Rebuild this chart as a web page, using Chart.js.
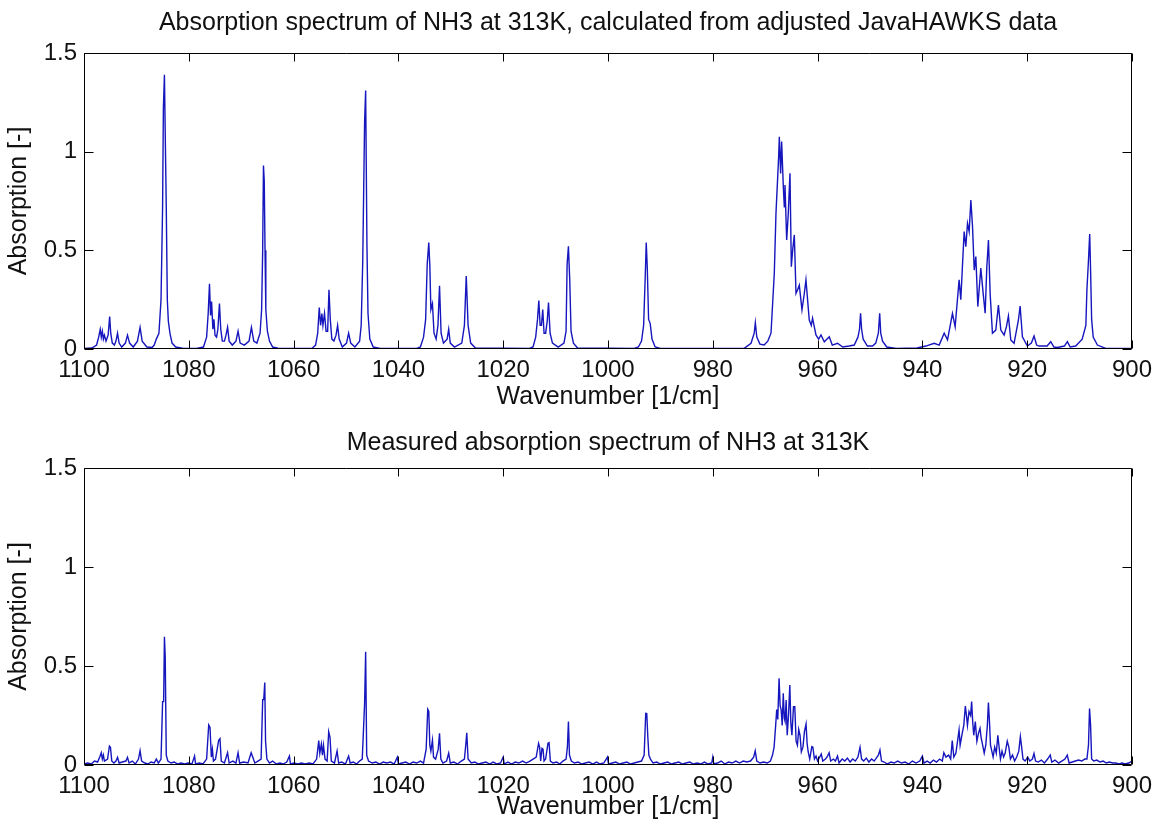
<!DOCTYPE html>
<html>
<head>
  <title>NH3 absorption spectra</title>
  <script src="https://cdn.jsdelivr.net/npm/chart.js"></script>
  <style>
    body { margin: 0; background: #fff; }
    .panel { position: absolute; left: 0; width: 1159px; height: 413px; }
  </style>
</head>
<body>
  <div class="panel" style="top:0"><canvas id="calcChart" width="1159" height="413"></canvas></div>
  <div class="panel" style="top:413px"><canvas id="measChart" width="1159" height="413"></canvas></div>

<script>
  // axis ticks
  const xTicks = [1100, 1080, 1060, 1040, 1020, 1000, 980, 960, 940, 920, 900];
  const yTicks = [0, 0.5, 1, 1.5];

  // calculated spectrum (JavaHAWKS)
  const calcWavenumber = [
    1100, 1098.5, 1097.6, 1097.2, 1096.9, 1096.7, 1096.5, 1096.3, 1096.1, 1095.8,
    1095.4, 1095.1, 1094.9, 1094.6, 1094.2, 1093.9, 1093.6, 1093.3, 1092.8, 1092.1,
    1091.7, 1091.3, 1090.6, 1089.8, 1089.3, 1088.9, 1088.0, 1087.0, 1086.6, 1086.2,
    1085.7, 1085.3, 1085.0, 1084.85, 1084.65, 1084.45, 1084.3, 1084.1, 1083.9, 1083.6,
    1083.2, 1082.5, 1081.0, 1078.5, 1077.2, 1076.6, 1076.3, 1076.05, 1075.85, 1075.65,
    1075.4, 1075.2, 1075.0, 1074.7, 1074.45, 1074.15, 1073.9, 1073.6, 1073.2, 1072.9,
    1072.6, 1072.3, 1071.7, 1071.0, 1070.6, 1070.2, 1069.4, 1068.5, 1068.05, 1067.6,
    1067.0, 1066.4, 1066.1, 1065.9, 1065.75, 1065.6, 1065.45, 1065.3, 1065.0, 1064.6,
    1064.0, 1063.0, 1062.0, 1056.5, 1055.8, 1055.4, 1055.1, 1054.85, 1054.6, 1054.4,
    1054.1, 1053.8, 1053.5, 1053.25, 1053.0, 1052.7, 1052.3, 1051.9, 1051.6, 1051.3,
    1050.7, 1049.9, 1049.5, 1049.1, 1048.3, 1047.4, 1047.1, 1046.8, 1046.45, 1046.25,
    1046.0, 1045.8, 1045.45, 1044.8, 1043.5, 1036.5, 1035.8, 1035.2, 1034.8, 1034.5,
    1034.2, 1034.0, 1033.8, 1033.5, 1033.2, 1032.8, 1032.45, 1032.15, 1031.85, 1031.4,
    1030.7, 1030.4, 1030.1, 1029.3, 1027.9, 1027.4, 1027.05, 1026.7, 1026.2, 1025.3,
    1015.0, 1014.3, 1013.8, 1013.45, 1013.2, 1012.95, 1012.7, 1012.45, 1012.2, 1011.9,
    1011.6, 1011.35, 1011.05, 1010.6, 1009.5, 1008.4, 1008.0, 1007.8, 1007.55, 1007.3,
    1007.05, 1006.6, 1005.8, 995.0, 994.2, 993.6, 993.2, 992.9, 992.7, 992.5,
    992.25, 991.95, 991.6, 991.0, 990.0, 974.0, 972.7, 972.1, 971.88, 971.6,
    971.0, 970.2, 969.5, 968.89, 968.26, 967.94, 967.43, 967.3, 967.05, 966.86,
    966.54, 966.35, 966.22, 965.9, 965.59, 965.27, 965.01, 964.76, 964.44, 964.12,
    963.81, 963.49, 962.98, 962.54, 962.22, 961.91, 961.59, 961.2, 960.96, 960.31,
    959.8, 959.35, 958.72, 957.77, 957.2, 956.19, 955.2, 954.0, 953.0, 952.3,
    952.0, 951.8, 951.6, 951.3, 950.5, 949.5, 948.9, 948.4, 948.15, 947.95,
    947.6, 946.8, 945.0, 941.0,
    939.33, 937.75, 936.8, 935.84, 935.2, 934.26, 933.75, 932.99, 932.67, 932.03,
    931.71, 931.39, 931.07, 930.75, 930.43, 930.11, 929.8, 929.42, 928.85, 928.4,
    928.02, 927.7, 927.39, 927.07, 926.63, 925.99, 925.49, 925.03, 924.4, 923.96,
    923.58, 923.13, 922.5, 921.67, 921.35, 920.91, 919.96, 919.2, 918.69, 918.2,
    917.73, 916.2, 915.5, 914.9, 914.24, 912.9, 912.33, 911.8, 910.74, 909.5,
    908.8, 908.6, 908.3, 908.07, 907.9, 907.7, 907.4, 906.6, 905.0, 900
  ];
  const calcAbsorption = [
    0.003, 0.005, 0.02, 0.06, 0.10, 0.06, 0.09, 0.05, 0.07, 0.04,
    0.07, 0.165, 0.08, 0.03, 0.02, 0.04, 0.08, 0.03, 0.01, 0.03,
    0.07, 0.03, 0.01, 0.04, 0.11, 0.04, 0.01, 0.008, 0.02, 0.05,
    0.08, 0.25, 0.72, 1.22, 1.39, 1.0, 0.72, 0.25, 0.14, 0.08,
    0.03, 0.01, 0.003, 0.003, 0.01, 0.06, 0.18, 0.33, 0.17, 0.24,
    0.10, 0.15, 0.07, 0.06, 0.10, 0.23, 0.10, 0.04, 0.04, 0.07,
    0.11, 0.04, 0.02, 0.04, 0.09, 0.03, 0.02, 0.04, 0.11, 0.04,
    0.03, 0.08, 0.2, 0.5, 0.93, 0.85, 0.5, 0.2, 0.09, 0.04,
    0.01, 0.004, 0.003, 0.003, 0.02, 0.08, 0.21, 0.12, 0.18, 0.12,
    0.18, 0.09, 0.09, 0.30, 0.15, 0.05, 0.04, 0.07, 0.12, 0.05,
    0.01, 0.03, 0.08, 0.03, 0.01, 0.04, 0.12, 0.45, 1.15, 1.31,
    0.52, 0.18, 0.05, 0.01, 0.003, 0.003, 0.01, 0.06, 0.15, 0.43,
    0.54, 0.42, 0.2, 0.23, 0.08, 0.05, 0.12, 0.32, 0.08, 0.03,
    0.05, 0.10, 0.03, 0.01, 0.03, 0.12, 0.37, 0.12, 0.03, 0.005,
    0.003, 0.01, 0.06, 0.15, 0.245, 0.12, 0.12, 0.20, 0.08, 0.08,
    0.14, 0.235, 0.08, 0.03, 0.01, 0.03, 0.09, 0.43, 0.52, 0.35,
    0.09, 0.03, 0.005, 0.003, 0.01, 0.04, 0.12, 0.36, 0.54, 0.41,
    0.15, 0.13, 0.05, 0.01, 0.003, 0.003, 0.029, 0.08, 0.133, 0.06,
    0.025, 0.02, 0.04, 0.08, 0.384, 0.688, 0.975, 1.076, 0.89, 1.051,
    0.823, 0.721, 0.831, 0.552, 0.688, 0.89, 0.417, 0.5, 0.578, 0.282,
    0.3, 0.324, 0.198, 0.28, 0.35, 0.25, 0.147, 0.12, 0.156, 0.071,
    0.05, 0.071, 0.037, 0.062, 0.02, 0.029, 0.01, 0.015, 0.02, 0.06,
    0.1, 0.181, 0.1, 0.05, 0.015, 0.015, 0.03, 0.08, 0.181, 0.08,
    0.04, 0.01, 0.003, 0.005,
    0.015, 0.029, 0.02, 0.08, 0.046, 0.18, 0.113, 0.35, 0.25, 0.595,
    0.519, 0.637, 0.595, 0.755, 0.62, 0.4, 0.468, 0.215, 0.41, 0.282,
    0.181, 0.417, 0.552, 0.282, 0.08, 0.096, 0.223, 0.096, 0.071, 0.113,
    0.167, 0.046, 0.029, 0.147, 0.218, 0.062, 0.015, 0.03, 0.066, 0.02,
    0.015, 0.015, 0.037, 0.01, 0.008, 0.015, 0.037, 0.01, 0.015, 0.05,
    0.12, 0.3, 0.45, 0.583, 0.4, 0.15, 0.06, 0.02, 0.003, 0.003
  ];

  // measured spectrum
  const measWavenumber = [
    1100, 1099.3, 1098.6, 1098.0, 1097.4, 1097.0, 1096.7, 1096.5, 1096.3, 1096.1,
    1095.5, 1095.15, 1094.95, 1094.7, 1094.3, 1093.9, 1093.6, 1093.3, 1092.7, 1092.0,
    1091.7, 1091.4, 1090.8, 1090.2, 1089.6, 1089.3, 1089.0, 1088.4, 1087.8, 1087.2,
    1086.6, 1086.2, 1085.8, 1085.3, 1085.0, 1084.8, 1084.65, 1084.5, 1084.3, 1084.0,
    1083.4, 1082.8, 1082.1, 1081.5, 1080.8, 1080.1, 1079.4, 1078.9, 1078.7, 1078.0,
    1077.3, 1076.6, 1076.2, 1075.95, 1075.7, 1075.5, 1075.3, 1074.9, 1074.3, 1074.05,
    1073.8, 1073.2, 1072.6, 1072.3, 1071.6, 1071.0, 1070.6, 1070.3, 1069.5, 1068.7,
    1068.1, 1067.8, 1067.4, 1066.8, 1066.2, 1065.9, 1065.7, 1065.5, 1065.35, 1065.1,
    1064.6, 1064.0, 1063.3, 1062.6, 1062.0, 1061.3, 1060.8, 1060.6, 1059.9, 1059.2,
    1058.5, 1057.8, 1057.0, 1056.3, 1055.6, 1055.2, 1055.0, 1054.7, 1054.5, 1054.3,
    1054.0, 1053.6, 1053.3, 1053.05, 1052.8, 1052.2, 1051.7, 1051.4, 1050.8, 1050.1,
    1049.5, 1049.2, 1048.6, 1048.0, 1047.4, 1046.9, 1046.45, 1046.25, 1046.05, 1045.7,
    1045.0, 1044.3, 1043.6, 1042.9, 1042.2, 1041.5, 1040.8, 1040.2, 1040.0, 1039.3,
    1038.6, 1037.9, 1037.2, 1036.5, 1035.8, 1035.2, 1034.7, 1034.4, 1034.2, 1034.0,
    1033.8, 1033.5, 1033.3, 1032.9, 1032.4, 1032.15, 1031.9, 1031.5, 1030.8, 1030.4,
    1030.1, 1029.4, 1028.7, 1028.0, 1027.4, 1027.15, 1026.95, 1026.7, 1026.1, 1025.4,
    1024.7, 1024.0, 1023.3, 1022.6, 1021.9, 1021.2, 1020.5, 1020.0, 1019.8, 1019.1,
    1018.4, 1017.7, 1017.0, 1016.3, 1015.6, 1014.9, 1014.3, 1013.7, 1013.25, 1013.05,
    1012.85, 1012.6, 1012.4, 1012.2, 1011.9, 1011.45, 1011.25, 1011.0, 1010.5, 1009.8,
    1009.2, 1008.6, 1008.0, 1007.75, 1007.55, 1007.35, 1007.0, 1006.4, 1005.7, 1005.0,
    1004.3, 1003.6, 1002.9, 1002.2, 1001.5, 1000.8, 1000.1, 999.9, 999.2, 998.5,
    997.8, 997.1, 996.4, 995.7, 995.0, 994.3, 993.6, 993.1, 992.8, 992.6,
    992.4, 992.2, 991.9, 991.4, 990.7, 990.0, 989.3, 988.6, 987.9, 987.2,
    986.5, 985.8, 985.1, 984.4, 983.7, 983.0, 982.3, 981.6, 980.9, 980.2,
    980.0, 979.8, 979.1, 978.4, 977.7, 977.0, 976.3, 975.6, 974.9, 974.2,
    973.5, 972.8, 972.2, 971.9, 971.6, 971.0, 970.3, 969.6, 969.0, 968.6,
    968.3, 968.0, 967.8, 967.6, 967.35, 967.15, 966.95, 966.75, 966.55, 966.35,
    966.2, 966.0, 965.8, 965.55, 965.3, 965.1, 964.9, 964.6, 964.35, 964.1,
    963.85, 963.6, 963.35, 963.1, 962.8, 962.5, 962.2, 962.0, 961.8, 961.5,
    961.1, 960.9, 960.6, 960.3, 960.0, 959.6, 959.3, 959.0, 958.5, 958.1,
    957.8, 957.5, 957.0, 956.6, 956.2, 955.9, 955.3, 954.8, 954.3, 953.8,
    953.3, 952.8, 952.3, 951.9, 951.6, 951.2, 950.7, 950.2, 949.7, 949.2,
    948.8, 948.4, 948.1, 947.8, 947.3, 946.7, 946.0, 945.4, 944.7, 944.0,
    943.3, 942.6, 941.9, 941.2, 940.5, 940.0, 939.7, 939.1, 938.5, 937.9,
    937.3, 936.7, 936.2, 935.9, 935.5, 935.0, 934.6, 934.3, 934.0, 933.6,
    933.0, 932.8, 932.4, 932.1, 931.8, 931.6, 931.4, 931.1, 930.8, 930.6,
    930.4, 930.2, 929.9, 929.6, 929.3, 929.0, 928.8, 928.5, 928.2, 927.9,
    927.6, 927.4, 927.2, 927.0, 926.8, 926.5, 926.2, 925.9, 925.6, 925.4,
    925.1, 924.8, 924.5, 924.2, 923.8, 923.5, 923.2, 922.8, 922.4, 922.0,
    921.6, 921.3, 921.1, 920.8, 920.4, 919.9, 919.5, 919.0, 918.7, 918.4,
    917.9, 917.3, 916.7, 916.1, 915.6, 915.3, 914.7, 914.0, 913.4, 912.8,
    912.35, 912.0, 911.4, 910.8, 910.2, 909.6, 909.0, 908.6, 908.3, 908.1,
    907.9, 907.7, 907.3, 906.7, 906.1, 905.5, 904.9, 904.3, 903.7, 903.1,
    902.5, 901.9, 901.3, 900.6, 900
  ];
  const measAbsorption = [
    0.005, 0.01, 0.005, 0.02, 0.015, 0.04, 0.062, 0.03, 0.05, 0.02,
    0.03, 0.096, 0.09, 0.02, 0.01, 0.02, 0.039, 0.01, 0.015, 0.02,
    0.039, 0.01, 0.02, 0.005, 0.03, 0.072, 0.02, 0.01, 0.005, 0.015,
    0.01, 0.03, 0.01, 0.03, 0.32, 0.32, 0.648, 0.547, 0.05, 0.02,
    0.01, 0.015, 0.005, 0.01, 0.005, 0.01, 0.005, 0.045, 0.005, 0.01,
    0.005, 0.03, 0.202, 0.19, 0.04, 0.079, 0.02, 0.03, 0.125, 0.133,
    0.02, 0.01, 0.062, 0.01, 0.02, 0.01, 0.062, 0.01, 0.015, 0.01,
    0.062, 0.04, 0.01, 0.02, 0.03, 0.33, 0.33, 0.416, 0.12, 0.03,
    0.01, 0.02, 0.005, 0.01, 0.005, 0.015, 0.045, 0.005, 0.01, 0.005,
    0.01, 0.005, 0.01, 0.005, 0.03, 0.123, 0.06, 0.106, 0.05, 0.1,
    0.03, 0.02, 0.168, 0.14, 0.02, 0.01, 0.07, 0.01, 0.015, 0.005,
    0.045, 0.01, 0.015, 0.005, 0.02, 0.03, 0.31, 0.572, 0.05, 0.02,
    0.01, 0.015, 0.005, 0.015, 0.01, 0.015, 0.005, 0.04, 0.005, 0.01,
    0.015, 0.005, 0.015, 0.01, 0.02, 0.01, 0.08, 0.281, 0.27, 0.1,
    0.07, 0.126, 0.04, 0.03, 0.08, 0.16, 0.03, 0.01, 0.02, 0.06,
    0.01, 0.015, 0.005, 0.02, 0.03, 0.1, 0.163, 0.03, 0.01, 0.015,
    0.005, 0.01, 0.015, 0.005, 0.015, 0.005, 0.01, 0.04, 0.005, 0.015,
    0.005, 0.015, 0.01, 0.02, 0.01, 0.02, 0.03, 0.04, 0.109, 0.09,
    0.02, 0.084, 0.08, 0.02, 0.03, 0.11, 0.113, 0.02, 0.01, 0.015,
    0.005, 0.02, 0.03, 0.09, 0.219, 0.05, 0.02, 0.01, 0.015, 0.005,
    0.01, 0.015, 0.005, 0.015, 0.005, 0.01, 0.04, 0.005, 0.01, 0.015,
    0.005, 0.01, 0.015, 0.005, 0.01, 0.015, 0.02, 0.05, 0.261, 0.26,
    0.143, 0.05, 0.03, 0.01, 0.015, 0.005, 0.01, 0.015, 0.005, 0.01,
    0.015, 0.005, 0.01, 0.015, 0.005, 0.01, 0.005, 0.015, 0.005, 0.01,
    0.04, 0.005, 0.01, 0.02, 0.005, 0.015, 0.01, 0.02, 0.01, 0.02,
    0.015, 0.02, 0.04, 0.072, 0.02, 0.01, 0.015, 0.01, 0.02, 0.05,
    0.09, 0.2, 0.28, 0.23, 0.438, 0.3, 0.278, 0.2, 0.362, 0.236,
    0.22, 0.328, 0.15, 0.25, 0.404, 0.21, 0.15, 0.295, 0.295, 0.12,
    0.1, 0.18, 0.15, 0.067, 0.09, 0.17, 0.207, 0.11, 0.067, 0.03,
    0.093, 0.09, 0.03, 0.045, 0.02, 0.04, 0.055, 0.02, 0.03, 0.045,
    0.062, 0.02, 0.03, 0.02, 0.045, 0.01, 0.03, 0.02, 0.035, 0.015,
    0.03, 0.02, 0.04, 0.089, 0.03, 0.02, 0.035, 0.015, 0.03, 0.02,
    0.035, 0.05, 0.076, 0.02, 0.015, 0.005, 0.015, 0.01, 0.02, 0.01,
    0.015, 0.005, 0.02, 0.01, 0.02, 0.045, 0.01, 0.02, 0.01, 0.025,
    0.015, 0.03, 0.02, 0.062, 0.04, 0.05, 0.03, 0.123, 0.04, 0.06,
    0.177, 0.1, 0.16, 0.2, 0.298, 0.253, 0.2, 0.27, 0.25, 0.32,
    0.22, 0.15, 0.219, 0.12, 0.16, 0.185, 0.14, 0.1, 0.06, 0.1,
    0.2, 0.315, 0.22, 0.1, 0.076, 0.04, 0.09, 0.06, 0.15, 0.1,
    0.03, 0.07, 0.04, 0.06, 0.12, 0.09, 0.03, 0.05, 0.02, 0.04,
    0.07, 0.143, 0.1, 0.03, 0.02, 0.04, 0.02, 0.03, 0.058, 0.02,
    0.015, 0.025, 0.01, 0.03, 0.05, 0.015, 0.025, 0.01, 0.02, 0.03,
    0.05, 0.01, 0.015, 0.02, 0.025, 0.02, 0.03, 0.03, 0.1, 0.285,
    0.2, 0.03, 0.02, 0.025, 0.015, 0.02, 0.01, 0.015, 0.01, 0.01,
    0.005, 0.01, 0.005, 0.01, 0.02
  ];

  const FONT = "'Liberation Sans', Arial, Helvetica, sans-serif";
  const LINE_COLOR = "rgb(22, 22, 190)";

  // MATLAB-like box with inward tick marks
  const boxTicks = {
    id: "boxTicks",
    afterDraw(chart) {
      const { ctx, chartArea: a, scales: { x, y } } = chart;
      const L = Math.round(a.left) + 0.5, R = Math.round(a.right) - 0.5;
      const T = Math.round(a.top) + 0.5, B = Math.round(a.bottom) - 0.5;
      ctx.save();
      ctx.strokeStyle = "#000";
      ctx.lineWidth = 1;
      ctx.beginPath();
      ctx.rect(L, T, R - L, B - T);
      x.ticks.forEach(t => {
        const px = Math.round(x.getPixelForValue(t.value)) + 0.5;
        ctx.moveTo(px, B); ctx.lineTo(px, B - 8);
        ctx.moveTo(px, T); ctx.lineTo(px, T + 8);
      });
      y.ticks.forEach(t => {
        const py = Math.round(y.getPixelForValue(t.value)) + 0.5;
        ctx.moveTo(L, py); ctx.lineTo(L + 9, py);
        ctx.moveTo(R, py); ctx.lineTo(R - 9, py);
      });
      ctx.stroke();
      ctx.restore();
    }
  };

  function makeChart(id, title, wn, abs, lay) {
    const points = wn.map((w, i) => ({ x: w, y: abs[i] }));
    return new Chart(document.getElementById(id), {
      type: "line",
      data: {
        datasets: [{
          data: points,
          borderColor: LINE_COLOR,
          borderWidth: 1.4,
          pointRadius: 0,
          tension: 0,
          fill: false
        }]
      },
      options: {
        responsive: false,
        animation: false,
        devicePixelRatio: 1,
        layout: { padding: { left: 0, right: 26, top: 0, bottom: 0 } },
        plugins: {
          legend: { display: false },
          tooltip: { enabled: false },
          title: {
            display: true,
            fullSize: false,
            text: title,
            color: "#111",
            font: { family: FONT, size: 25, weight: "normal", lineHeight: 1.2 },
            padding: { top: lay.titleTop, bottom: lay.titleBottom }
          }
        },
        scales: {
          x: {
            type: "linear",
            reverse: true,
            min: 900,
            max: 1100,
            afterBuildTicks: s => { s.ticks = xTicks.map(v => ({ value: v })); },
            afterFit: s => { s.height = 413 - lay.plotBottom; },
            grid: { display: false, drawTicks: false },
            border: { display: false },
            ticks: {
              autoSkip: false,
              maxRotation: 0,
              padding: 7,
              color: "#111",
              font: { family: FONT, size: 24 },
              callback: v => String(v)
            },
            title: {
              display: true,
              text: "Wavenumber [1/cm]",
              color: "#111",
              font: { family: FONT, size: 25, lineHeight: 1.2 },
              padding: { top: 0, bottom: lay.xTitleBottom }
            }
          },
          y: {
            min: 0,
            max: 1.5,
            afterBuildTicks: s => { s.ticks = yTicks.map(v => ({ value: v })); },
            afterFit: s => { s.width = 84; },
            grid: { display: false, drawTicks: false },
            border: { display: false },
            ticks: {
              padding: 7,
              color: "#111",
              font: { family: FONT, size: 24 },
              callback: v => String(v)
            },
            title: {
              display: true,
              text: "Absorption [-]",
              color: "#111",
              font: { family: FONT, size: 25, lineHeight: 1.2 },
              padding: { top: 4, bottom: 0 }
            }
          }
        }
      },
      plugins: [boxTicks]
    });
  }

  makeChart("calcChart",
    "Absorption spectrum of NH3 at 313K, calculated from adjusted JavaHAWKS data",
    calcWavenumber, calcAbsorption,
    { titleTop: 8, titleBottom: 15, plotBottom: 349, xTitleBottom: 1 });

  makeChart("measChart",
    "Measured absorption spectrum of NH3 at 313K",
    measWavenumber, measAbsorption,
    { titleTop: 15, titleBottom: 10, plotBottom: 352, xTitleBottom: 4 });
</script>
</body>
</html>
